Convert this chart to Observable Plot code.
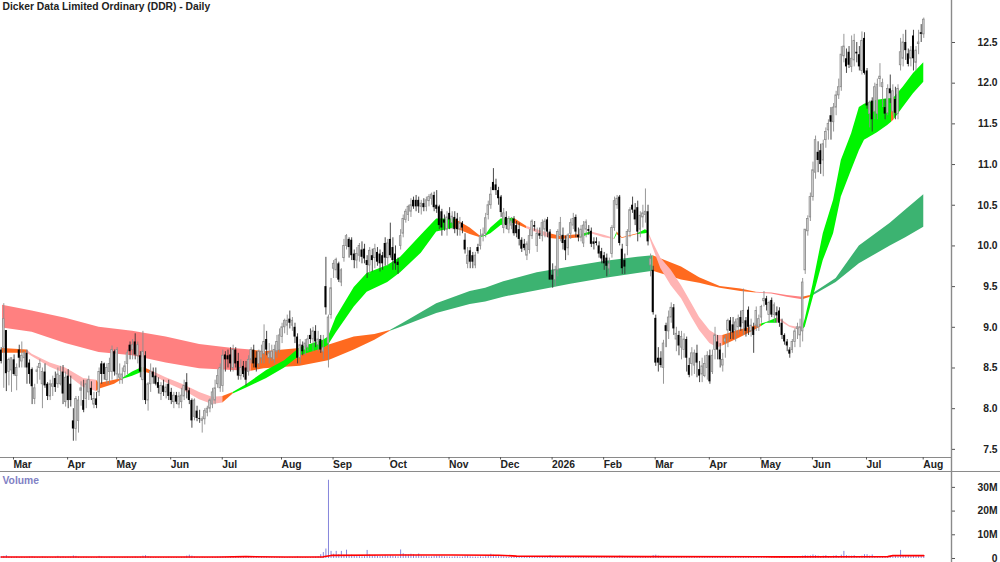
<!DOCTYPE html>
<html><head><meta charset="utf-8">
<script src="https://cdn.jsdelivr.net/npm/d3@7"></script>
<script src="https://cdn.jsdelivr.net/npm/@observablehq/plot@0.6"></script>
<style>html,body{margin:0;padding:0;background:#fff}svg{display:block}#c{width:1000px;height:562px;overflow:hidden}</style>
</head><body><div id="c"></div>
<script>
// rows: [open, high, low, close, volume in millions]
const feb25=[[8.72,8.75,8.55,8.58,.7],[8.75,9.29,8.25,9.1,.9],[8.96,8.96,8.21,8.43,1.2],[8.45,8.62,8.28,8.6,.6]];
const mar25=[[8.47,8.62,8.2,8.62,.5],[8.6,8.66,8.4,8.42,.5],[8.4,8.55,8.22,8.5,.6],[8.72,8.78,8.5,8.62,.4],[8.58,8.82,8.5,8.65,.5],[8.62,8.7,8.5,8.68,.4],[8.68,8.72,8.3,8.5,.5],[8.56,8.6,8.3,8.42,.6],[8.48,8.5,8.05,8.27,.7],[8.12,8.3,8.05,8.25,.5],[8.45,8.52,8.3,8.47,.4],[8.5,8.6,8.35,8.55,.4],[8.3,8.5,8,8.45,.6],[8.45,8.55,8.25,8.28,.5],[8.3,8.32,8.1,8.15,.4],[8.15,8.35,8.1,8.3,.4],[8.27,8.4,8.15,8.3,.4],[8.37,8.45,8.2,8.26,.5],[8.3,8.5,8.25,8.42,.9],[8.3,8.52,8.28,8.4,.5],[8.45,8.53,8.05,8.18,.7]];
const apr25=[[8.08,8.45,8.02,8.38,.5],[8.4,8.48,8,8.1,.6],[8.3,8.4,8.02,8.1,.6],[7.85,8,7.6,7.75,1.1],[7.75,8.15,7.6,8.12,.9],[7.85,8.15,7.7,8.1,.5],[8.22,8.33,8.03,8.25,.4],[8.1,8.35,7.95,7.98,.5],[8.12,8.35,8,8.3,.5],[8.2,8.4,8.1,8.35,.4],[8.25,8.33,8.1,8.16,.4],[8.05,8.2,8,8.12,.4],[8.12,8.2,8,8.04,.4],[8.2,8.5,8.15,8.45,.9],[8.55,8.58,8.3,8.42,.6],[8.55,8.56,8.35,8.42,.4],[8.35,8.55,8.3,8.5,.4],[8.45,8.62,8.3,8.55,.5],[8.45,8.77,8.35,8.72,.5]];
const may25=[[8.7,8.72,8.4,8.45,.5],[8.42,8.75,8.35,8.72,.4],[8.38,8.55,8.3,8.42,.4],[8.35,8.5,8.3,8.42,.4],[8.45,8.58,8.38,8.52,.5],[8.55,8.72,8.42,8.68,.5],[8.78,8.82,8.6,8.7,.4],[8.72,8.85,8.6,8.78,.5],[8.82,8.92,8.6,8.66,.6],[8.65,8.82,8.55,8.78,.5],[8.65,8.7,8.38,8.45,.6],[8.35,8.95,8.1,8.7,1],[8.65,8.7,8.05,8.1,1.2],[8.1,8.32,7.97,8.3,.8],[8.3,8.55,8.2,8.45,.5],[8.45,8.5,8.3,8.38,.4],[8.4,8.5,8.28,8.3,.4],[8.32,8.38,8.18,8.25,.4],[8.18,8.32,8.1,8.28,.4],[8.28,8.35,8.15,8.2,.4],[8.2,8.3,8.12,8.26,.4]];
const jun25=[[8.3,8.35,8.1,8.15,.5],[8.2,8.25,8.05,8.1,.4],[8.08,8.2,8,8.16,.4],[8.16,8.2,8.05,8.08,.4],[8.05,8.2,8,8.15,.4],[8.08,8.25,8,8.16,.5],[8.15,8.35,8.1,8.28,.6],[8.32,8.43,8.12,8.22,1],[8.22,8.25,8.05,8.1,1.4],[8.1,8.12,7.76,7.85,1],[7.9,8.12,7.85,8.1,.6],[7.97,8.03,7.84,7.88,.5],[7.88,7.98,7.82,7.87,.4],[7.85,7.9,7.7,7.87,.5],[7.87,8,7.8,7.97,.4],[7.95,8.03,7.9,8,.4],[8,8.12,7.95,8.1,.4],[8.05,8.25,8,8.2,.5],[8.1,8.35,8.05,8.25,.5],[8.3,8.48,8.25,8.4,.6]];
const jul25=[[8.25,8.55,8.2,8.5,.7],[8.28,8.72,8.2,8.65,.7],[8.66,8.7,8.45,8.6,.5],[8.65,8.72,8.5,8.6,.4],[8.66,8.75,8.45,8.55,.5],[8.5,8.78,8.45,8.72,.6],[8.72,8.75,8.5,8.55,.5],[8.58,8.68,8.35,8.4,.6],[8.4,8.6,8.35,8.5,.5],[8.52,8.58,8.38,8.42,.4],[8.5,8.58,8.28,8.35,.5],[8.45,8.65,8.4,8.6,.5],[8.6,8.75,8.55,8.72,.5],[8.72,8.78,8.5,8.55,.5],[8.62,8.7,8.45,8.5,.4],[8.55,8.72,8.5,8.7,.4],[8.62,8.78,8.55,8.7,.5],[8.67,9.03,8.55,8.82,.7],[8.85,8.95,8.65,8.72,.6],[8.62,8.8,8.55,8.68,.4],[8.62,8.78,8.58,8.7,.4],[8.6,8.78,8.55,8.72,.4],[8.7,8.9,8.62,8.82,.5]];
const aug25=[[8.72,8.98,8.68,8.9,.5],[8.88,9.05,8.8,9,.5],[9,9.1,8.92,9.08,.4],[9.02,9.15,8.9,9.08,.4],[9.1,9.2,8.98,9.05,.5],[9.02,9.12,8.95,9.08,.4],[9,9.05,8.8,8.88,.5],[8.88,8.92,8.55,8.62,.7],[8.62,8.85,8.55,8.78,.5],[8.78,8.82,8.65,8.7,.4],[8.72,8.85,8.65,8.8,.4],[8.75,8.9,8.7,8.85,.4],[8.9,8.98,8.8,8.85,.4],[8.85,9,8.7,8.95,.6],[8.95,9.02,8.75,8.82,.6],[8.78,8.95,8.7,8.85,.8],[8.85,8.9,8.68,8.72,1.6],[8.7,8.9,8.6,8.75,2.5],[9.5,9.86,9.15,9.24,4],[8.8,9.15,8.5,9.12,33]];
const sep25=[[9.15,9.6,9.1,9.48,3],[9.72,9.82,9.6,9.78,1.8],[9.7,9.85,9.6,9.83,3],[9.78,9.8,9.55,9.58,1.6],[9.55,9.72,9.5,9.7,3],[9.85,10.08,9.8,10,1.4],[10,10.14,9.95,10.12,3.5],[10.08,10.1,9.85,9.98,1.2],[10.07,10.1,9.82,9.88,1.4],[9.9,9.95,9.72,9.82,.9],[9.82,9.98,9.72,9.9,1],[9.88,10.03,9.8,10,.8],[9.95,10.05,9.78,9.86,.7],[9.96,10.02,9.78,9.84,.8],[9.82,9.88,9.6,9.76,3.4],[9.76,9.98,9.65,9.94,1.5],[9.88,9.96,9.68,9.82,1],[9.85,10.02,9.72,9.96,1.3],[9.92,9.98,9.75,9.8,.9],[9.9,9.95,9.68,9.78,.8],[9.88,9.92,9.7,9.78,.8],[10.03,10.1,9.75,9.85,1.2]];
const oct25=[[9.85,10.08,9.75,10.03,1],[10.08,10.28,9.85,9.88,1.2],[9.98,10.1,9.7,9.82,1],[9.9,10,9.7,9.78,.8],[9.8,9.85,9.65,9.76,.7],[10,10.2,9.95,10.12,3.6],[10.15,10.38,10.1,10.33,2],[10.32,10.45,10.28,10.42,1.6],[10.38,10.5,10.3,10.48,1.5],[10.42,10.58,10.35,10.5,1.8],[10.56,10.6,10.45,10.48,1.6],[10.56,10.62,10.42,10.48,1.2],[10.56,10.6,10.4,10.48,1.9],[10.48,10.56,10.38,10.52,1],[10.52,10.58,10.42,10.47,.8],[10.48,10.6,10.42,10.56,.8],[10.55,10.63,10.48,10.6,.7],[10.58,10.65,10.5,10.63,.7],[10.62,10.66,10.42,10.47,.9],[10.5,10.68,10.4,10.45,1],[10.48,10.5,10.2,10.25,1],[10.42,10.45,10.12,10.22,.9],[10.32,10.38,10.18,10.28,.7]];
const nov25=[[10.2,10.42,10.12,10.35,.7],[10.4,10.47,10.2,10.32,.6],[10.28,10.42,10.2,10.36,.6],[10.35,10.42,10.15,10.2,.7],[10.33,10.4,10.12,10.2,.7],[10.2,10.35,10.12,10.28,.6],[10.28,10.3,10.15,10.22,.6],[10.07,10.15,9.9,9.95,.9],[9.78,9.98,9.72,9.88,1],[9.94,9.98,9.72,9.8,.7],[9.88,9.92,9.72,9.8,.6],[9.76,9.92,9.72,9.88,.6],[9.98,10.02,9.9,9.93,.6],[10,10.2,9.95,10.12,.7],[10.12,10.22,10.05,10.14,.6],[10.15,10.4,10.1,10.34,.8],[10.38,10.55,10.32,10.5,1.2],[10.5,10.72,10.45,10.63,1.8],[10.78,10.95,10.68,10.68,1.4],[10.75,10.82,10.62,10.68,1]];
const dec25=[[10.68,10.72,10.5,10.58,.8],[10.6,10.62,10.35,10.41,.8],[10.22,10.46,10.15,10.4,.7],[10.35,10.42,10.2,10.25,.6],[10.2,10.36,10.15,10.33,.5],[10.25,10.35,10.2,10.3,.5],[10.33,10.36,10.12,10.15,.6],[10.25,10.3,10.1,10.15,.5],[10.2,10.28,10,10.08,.6],[10.07,10.1,9.92,9.96,.6],[10.02,10.08,9.94,9.97,.5],[9.88,10.05,9.82,10.02,.5],[9.95,10.2,9.9,10.12,.5],[10.12,10.32,10.08,10.3,.6],[10.25,10.3,10.18,10.23,.4],[10,10.22,9.92,10.15,.5],[10.15,10.22,10.08,10.12,.4],[10.12,10.32,10.05,10.28,.5],[10.2,10.33,10.1,10.3,.5],[10.32,10.35,10.1,10.17,.6]];
const jan26=[[10.17,10.2,9.58,9.58,1.2],[9.64,9.78,9.48,9.58,.8],[9.58,9.75,9.5,9.7,.6],[9.7,10.2,9.62,10.17,.8],[10.13,10.35,10.05,10.28,.6],[10.13,10.22,9.95,10.03,.5],[10.07,10.12,9.82,9.94,.5],[9.97,10.15,9.88,10.13,.5],[10.15,10.33,10.08,10.28,.5],[10.25,10.4,10.2,10.33,.5],[10.35,10.38,10.1,10.17,.5],[10.13,10.22,10.05,10.1,.4],[10.1,10.25,10.05,10.2,.4],[10.03,10.3,9.98,10.25,.5],[10.2,10.32,10.1,10.29,.5],[10.2,10.25,10.13,10.18,.4],[10.18,10.22,9.98,10.02,.5],[10.05,10.1,9.95,10.02,.4],[10.05,10.1,10,10.03,.4],[10,10.05,9.85,9.9,.5]];
const feb26=[[9.93,9.97,9.78,9.84,.4],[9.88,9.92,9.7,9.78,.5],[9.85,9.9,9.62,9.75,.5],[9.72,9.85,9.65,9.78,.4],[9.9,10.25,9.85,10.22,.8],[10.22,10.6,10.18,10.55,.7],[10.5,10.62,10.45,10.58,.5],[10.6,10.62,10,10.03,1],[9.96,10.02,9.65,9.72,.9],[9.82,9.9,9.65,9.74,.6],[10,10.2,9.88,10.17,.6],[10.17,10.47,10.1,10.44,.7],[10.5,10.6,10.4,10.44,.5],[10.44,10.52,10.25,10.32,.5],[10.47,10.55,10.05,10.17,.6],[10.2,10.42,10.1,10.37,.5],[10.35,10.5,10.22,10.4,.5],[10.38,10.7,10.28,10.42,.7],[10.42,10.5,10,10.05,.8],[9.76,9.9,9.62,9.84,.7],[9.7,9.75,9.15,9.18,1.2]];
const mar26=[[9.11,9.15,8.52,8.56,1.4],[8.62,8.75,8.45,8.56,1],[8.62,8.7,8.5,8.53,.7],[8.5,8.84,8.3,8.8,.8],[9.02,9.05,8.75,8.95,.6],[8.95,9.2,8.85,9.12,.5],[9.12,9.3,9.05,9.24,.5],[9.24,9.28,8.9,8.98,.6],[8.85,9,8.7,8.92,.5],[8.9,8.95,8.65,8.77,.5],[8.75,8.95,8.6,8.88,.5],[8.72,8.92,8.62,8.85,.4],[8.85,8.88,8.45,8.62,.6],[8.53,8.62,8.38,8.41,.5],[8.55,8.75,8.4,8.68,.4],[8.53,8.72,8.42,8.68,.4],[8.68,8.78,8.38,8.56,.5],[8.48,8.58,8.32,8.4,.5],[8.42,8.62,8.32,8.52,.4],[8.4,8.65,8.38,8.55,.5]];
const apr26=[[8.5,8.7,8.35,8.65,.4],[8.65,8.72,8.3,8.33,.5],[8.45,8.72,8.42,8.65,.5],[8.72,9,8.6,8.9,.6],[8.82,8.9,8.6,8.72,.4],[8.72,8.8,8.5,8.6,.4],[8.53,8.68,8.45,8.6,.4],[8.82,8.9,8.62,8.86,.5],[8.96,9.1,8.75,9.08,.6],[9.08,9.12,8.85,8.95,.4],[9.03,9.12,8.85,8.93,.4],[8.96,9.1,8.82,9.06,.4],[9,9.15,8.9,9.1,.4],[9.12,9.2,8.95,9,.4],[9.05,9.47,8.9,9.2,.6],[9.08,9.12,8.88,8.95,.4],[9.21,9.25,8.9,9,.5],[8.95,9.1,8.88,9.02,.4],[9,9.05,8.68,8.9,.5],[9.02,9.25,8.95,9.2,.4]];
const may26=[[9,9.15,8.95,9.1,.4],[9.12,9.27,9.05,9.25,.4],[9.32,9.44,9.25,9.35,.4],[9.35,9.38,9.2,9.27,.3],[9.15,9.32,9.05,9.3,.3],[9.33,9.36,9.12,9.15,.4],[9.15,9.3,9.05,9.27,.3],[9.18,9.25,9.05,9.14,.3],[9.2,9.24,9,9.05,.4],[9.05,9.1,8.85,8.9,.4],[8.9,8.92,8.78,8.82,.4],[8.82,8.85,8.7,8.77,.4],[8.72,8.75,8.62,8.67,.5],[8.72,8.85,8.68,8.82,.4],[8.82,8.98,8.75,8.95,.4],[8.98,9.05,8.85,9,.4],[8.9,9.1,8.75,9,.5],[8.95,9.6,8.82,9.55,1],[9.7,10.2,9.65,10.2,1.2],[10.18,10.37,10.12,10.33,1]];
const jun26=[[10.35,10.65,10.3,10.6,1.1],[10.6,11.03,10.55,10.93,1.5],[10.9,11.35,10.82,11.3,1.2],[11.15,11.28,10.9,11.05,1],[11.17,11.25,10.88,11,.8],[11.05,11.3,10.85,11.25,1],[11.3,11.45,11.2,11.4,1.2],[11.42,11.55,11.3,11.5,.8],[11.6,11.7,11.3,11.52,.8],[11.52,11.75,11.4,11.7,1],[11.7,11.9,11.6,11.85,1.2],[11.85,12.05,11.8,11.95,.8],[11.95,12.45,11.9,12.35,1.4],[12.33,12.6,12.25,12.45,3],[12.3,12.42,12.12,12.2,1.2],[12.38,12.45,12.18,12.22,1],[12.2,12.58,12.13,12.3,1],[12.28,12.6,12.2,12.52,1.2],[12.38,12.5,12.25,12.36,.8],[12.35,12.45,12.15,12.2,.8]];
const jul26=[[12.15,12.63,12.1,12.52,1],[12.55,12.62,12.1,12.12,1.6],[12.15,12.18,11.68,11.72,1.6],[11.62,11.78,11.45,11.76,1],[11.78,11.82,11.4,11.55,1.5],[11.65,12,11.55,11.95,.8],[11.62,12.05,11.55,11.98,.8],[12.05,12.24,11.95,12.08,.7],[11.95,12.05,11.7,12,.7],[11.7,11.8,11.55,11.62,.8],[11.63,11.98,11.6,11.93,.7],[11.93,12.1,11.75,11.87,.7],[11.65,11.98,11.6,11.9,.7],[11.8,11.95,11.55,11.63,.9],[11.62,11.98,11.55,11.93,.7],[12.22,12.55,12.15,12.38,3.4],[12.3,12.6,12.2,12.5,1.2],[12.5,12.65,12.28,12.4,1],[12.36,12.42,12.2,12.23,.9],[12.3,12.45,12.2,12.4,.8],[12.58,12.65,12.15,12.3,1.1],[12.25,12.45,12.15,12.4,.8],[12.48,12.65,12.35,12.5,.8]];
const aug26=[[12.62,12.72,12.5,12.6,.8],[12.6,12.8,12.55,12.78,.9]];

// indicator bands: [bar, upper, lower, state of the span that starts here]
const longBand=[[0.5,9.27,8.99,"down"],[12,9.2,8.94,"down"],[25,9.11,8.8,"down"],[38,9,8.69,"down"],[51,8.95,8.65,"down"],[64,8.88,8.56,"down"],[77,8.79,8.49,"down"],[90,8.74,8.47,"down"],[97,8.72,8.46,"turn"],[102,8.7,8.49,"turn"],[116,8.74,8.52,"turn"],[127,8.78,8.59,"turn"],[137,8.88,8.72,"turn"],[145,8.91,8.84,"turn"],[151,8.96,8.95,"up"],[156,9.05,9.01,"up"],[169,9.29,9.17,"up"],[182,9.44,9.28,"up"],[188,9.48,9.31,"up"],[195,9.56,9.37,"up"],[208,9.67,9.45,"up"],[221,9.74,9.53,"up"],[234,9.81,9.6,"up"],[247,9.86,9.66,"up"],[253,9.88,9.69,"turn"],[264,9.74,9.58,"turn"],[271,9.61,9.54,"turn"],[279,9.5,9.48,"turn"],[287,9.47,9.44,"turn"],[293,9.43,9.42,"down"],[299,9.42,9.41,"down"],[305,9.39,9.37,"down"],[311,9.37,9.34,"turn"],[314,9.39,9.37,"up"],[324,9.6,9.55,"up"],[333,10,9.78,"up"],[345,10.28,10,"up"],[351,10.44,10.1,"up"],[358,10.63,10.23,"up"]];
const shortBand=[[0.5,8.74,8.68,"turn"],[10,8.72,8.68,"down"],[12,8.67,8.64,"down"],[19,8.56,8.51,"down"],[25,8.5,8.43,"down"],[32,8.37,8.26,"down"],[37,8.35,8.21,"turn"],[38,8.31,8.24,"turn"],[44,8.35,8.3,"turn"],[47,8.37,8.36,"up"],[51,8.45,8.4,"up"],[55,8.51,8.45,"turn"],[58,8.47,8.43,"down"],[64,8.38,8.32,"down"],[71,8.29,8.22,"down"],[77,8.2,8.11,"down"],[82,8.14,8.05,"down"],[86,8.15,8.07,"turn"],[90,8.2,8.18,"up"],[95,8.29,8.25,"up"],[103,8.47,8.37,"up"],[110,8.59,8.5,"up"],[116,8.75,8.65,"up"],[125,8.84,8.74,"up"],[127,8.88,8.78,"up"],[130,9.12,8.93,"up"],[137,9.49,9.25,"up"],[142,9.66,9.43,"up"],[150,9.76,9.55,"up"],[155,9.86,9.67,"up"],[163,10.13,9.91,"up"],[169,10.33,10.17,"up"],[176,10.33,10.22,"turn"],[182,10.22,10.14,"turn"],[186,10.12,10.1,"up"],[188,10.13,10.12,"up"],[190,10.22,10.15,"up"],[194,10.33,10.25,"up"],[199,10.34,10.28,"turn"],[204,10.24,10.21,"down"],[213,10.15,10.09,"turn"],[217,10.12,10.08,"turn"],[225,10.14,10.1,"up"],[229,10.17,10.15,"down"],[234,10.13,10.1,"down"],[238,10.09,10.08,"up"],[239,10.17,10.14,"turn"],[241,10.1,10.09,"turn"],[247,10.15,10.14,"up"],[250,10.2,10.15,"up"],[251,10.18,10.16,"down"],[253,10.04,9.97,"down"],[256,9.85,9.72,"down"],[260,9.7,9.51,"down"],[264,9.51,9.35,"down"],[268,9.29,9.12,"down"],[271,9.12,8.96,"down"],[275,8.96,8.8,"down"],[278,8.9,8.75,"down"],[280,8.9,8.77,"turn"],[286,8.96,8.86,"turn"],[291,9,8.94,"turn"],[295,9.04,9.01,"up"],[297,9.06,9.05,"up"],[301,9.11,9.05,"down"],[302,9.11,9.08,"down"],[306,9.02,9,"down"],[309,9,8.97,"down"],[311,9,8.97,"up"],[312,9.1,9,"up"],[315,9.52,9.35,"up"],[319,10.15,9.82,"up"],[323,10.56,10.15,"up"],[326,11.05,10.6,"up"],[330,11.38,10.93,"up"],[333,11.7,11.17,"up"],[335,11.74,11.3,"up"],[340,11.79,11.39,"up"],[344,11.81,11.48,"up"],[345.5,11.81,11.52,"turn"],[346.5,11.82,11.55,"up"],[350,11.95,11.7,"up"],[354,12.12,11.87,"up"],[358,12.25,12.01,"up"]];

// volume average: [bar, millions]
const volumeAverage=[[0,.6],[60,.6],[85,.6],[95,.8],[110,.6],[125,.7],[128,1.3],[150,1.5],[175,1.5],[193,1.4],[200,1],[250,.8],[300,.7],[344,.8],[346,1.2],[358,1.2]];

const monthStarts=[4,25,44,65,85,108,128,150,173,193,213,233,253,274,294,314,335,357];
const monthLabels=["Mar","Apr","May","Jun","Jul","Aug","Sep","Oct","Nov","Dec","2026","Feb","Mar","Apr","May","Jun","Jul","Aug"];
const priceTicks=[7.5,8,8.5,9,9.5,10,10.5,11,11.5,12,12.5];
const volumeTicks=[0,10,20,30];
const titleText="Dicker Data Limited Ordinary (DDR) - Daily";

const candles=[feb25,mar25,apr25,may25,jun25,jul25,aug25,sep25,oct25,nov25,dec25,jan26,feb26,mar26,apr26,may26,jun26,jul26,aug26].flat()
  .map(([o,h,l,c,v],i)=>({i,o,h,l,c,v,up:c>=o}));

const xDomain=[-0.27,368.76], priceDomain=[7.4,13.016], stripLow=7.228;
const font='"Liberation Sans",Arial,sans-serif';
const axisGrey="#8a8a8a", labelSize=10.3;
const colours={long:{down:"#ff8080",turn:"#ff6a1f",up:"#3cb371"},short:{down:"#ffb4b4",turn:"#ff6a1f",up:"#00f500"}};

function segments(rows,key){
  const out=[];let seg=0;
  rows.forEach((r,k)=>{
    if(k>0&&rows[k-1][3]!==r[3]){out.push({i:r[0],hi:r[1],lo:r[2],seg,state:rows[k-1][3]});seg++;}
    out.push({i:r[0],hi:r[1],lo:r[2],seg,state:r[3]});
  });
  return out.map(d=>({...d,fill:colours[key][d.state]}));
}
const bandMark=(rows,key)=>Plot.areaY(segments(rows,key),{x:"i",y1:"lo",y2:"hi",z:"seg",fill:"fill",curve:"linear"});

const priceChart=Plot.plot({
  width:1000,height:471,marginLeft:0,marginRight:49,marginTop:0,marginBottom:14,
  style:{fontFamily:font,background:"white",overflow:"visible"},
  x:{type:"linear",domain:xDomain},
  y:{type:"linear",domain:priceDomain},
  marks:[
    bandMark(longBand,"long"),
    bandMark(shortBand,"short"),
    Plot.ruleX(candles,{x:"i",y1:"l",y2:"h",stroke:d=>d.up?"#8c8c8c":"#333",strokeWidth:0.9}),
    Plot.rect(candles.filter(d=>d.up),{x1:d=>d.i-0.3,x2:d=>d.i+0.3,y1:"o",y2:"c",fill:"#dcdcdc",stroke:"#8c8c8c",strokeWidth:0.8}),
    Plot.rect(candles.filter(d=>!d.up),{x1:d=>d.i-0.38,x2:d=>d.i+0.38,y1:"o",y2:"c",fill:"#000"}),
    Plot.ruleY([priceDomain[0]],{stroke:axisGrey,strokeWidth:1}),
    Plot.ruleY([stripLow],{x1:xDomain[0],x2:394,stroke:axisGrey,strokeWidth:1}),
    Plot.ruleX([xDomain[1]],{y1:stripLow,y2:priceDomain[1],stroke:axisGrey,strokeWidth:1.4}),
    Plot.axisX(monthStarts,{anchor:"bottom",tickSize:2.5,tickPadding:0.5,stroke:"#555",textAnchor:"start",dx:2,fontSize:labelSize,fontWeight:"bold",fill:"#222",tickFormat:i=>monthLabels[monthStarts.indexOf(i)],label:null}),
    Plot.axisY(priceTicks,{anchor:"right",tickSize:3,tickPadding:43,textAnchor:"end",fontSize:labelSize,fontWeight:"bold",fill:"#222",stroke:"#555",tickFormat:d=>d.toFixed(1),label:null}),
    Plot.text([titleText],{frameAnchor:"top-left",dx:2,dy:2,textAnchor:"start",fontSize:labelSize,fontWeight:"bold",fill:"#222"})
  ]
});

const volChart=Plot.plot({
  width:1000,height:91,marginLeft:0,marginRight:49,marginTop:0,marginBottom:0,
  style:{fontFamily:font,background:"white",overflow:"visible"},
  x:{type:"linear",domain:xDomain,axis:null},
  y:{type:"linear",domain:[-1.69,36.7]},
  marks:[
    Plot.ruleX(candles,{x:"i",y1:0,y2:"v",stroke:"#8585dc",strokeWidth:1}),
    Plot.line(volumeAverage,{x:d=>d[0],y:d=>d[1],stroke:"#ff0000",strokeWidth:1.6}),
    Plot.ruleX([xDomain[1]],{stroke:axisGrey,strokeWidth:1.4}),
    Plot.axisY(volumeTicks,{anchor:"right",tickSize:3,tickPadding:43,textAnchor:"end",fontSize:labelSize,fontWeight:"bold",fill:"#222",stroke:"#555",tickFormat:d=>d?d+"M":"0",label:null}),
    Plot.text(["Volume"],{frameAnchor:"top-left",dx:2,dy:5,textAnchor:"start",fontSize:labelSize,fontWeight:"bold",fill:"#8181c4"})
  ]
});
document.getElementById("c").append(priceChart,volChart);
</script></body></html>
